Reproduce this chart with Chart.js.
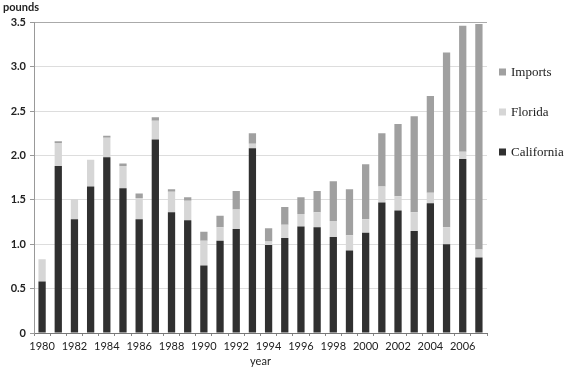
<!DOCTYPE html>
<html>
<head>
<meta charset="utf-8">
<script src="https://cdn.jsdelivr.net/npm/chart.js@4/dist/chart.umd.min.js"></script>
<style>
    html, body { margin: 0; padding: 0; background: #fff; }
    #wrap { width: 570px; height: 368px; }
</style>
</head>
<body>
<div id="wrap"><canvas id="barchart" width="570" height="368"></canvas></div>
<script>
// chart data
var years = ["1980", "1981", "1982", "1983", "1984", "1985", "1986", "1987", "1988", "1989",
    "1990", "1991", "1992", "1993", "1994", "1995", "1996", "1997", "1998", "1999",
    "2000", "2001", "2002", "2003", "2004", "2005", "2006", "2007"];

var california = [0.58, 1.88, 1.28, 1.65, 1.98, 1.63, 1.28, 2.18, 1.36, 1.27,
    0.76, 1.04, 1.17, 2.08, 0.99, 1.07, 1.20, 1.19, 1.08, 0.93,
    1.13, 1.47, 1.38, 1.15, 1.46, 1.00, 1.96, 0.85];

var florida = [0.25, 0.26, 0.23, 0.30, 0.22, 0.25, 0.24, 0.21, 0.23, 0.22,
    0.28, 0.15, 0.22, 0.05, 0.04, 0.15, 0.14, 0.17, 0.18, 0.17,
    0.15, 0.18, 0.16, 0.21, 0.12, 0.19, 0.08, 0.09];

var imports = [0, 0.02, 0, 0, 0.02, 0.03, 0.05, 0.04, 0.03, 0.04,
    0.10, 0.13, 0.21, 0.12, 0.15, 0.20, 0.19, 0.24, 0.45, 0.52,
    0.62, 0.60, 0.815, 1.08, 1.09, 1.97, 1.42, 2.54];

var yTicks = [0, 0.5, 1.0, 1.5, 2.0, 2.5, 3.0, 3.5];

var colors = {
    california: "#303030",
    florida: "#d6d6d6",
    imports: "#a0a0a0"
};

var sansFont = "Lato, 'Open Sans', sans-serif";
var serifFont = "'Liberation Serif', 'DejaVu Serif', serif";

// legend on the right, drawn from the datasets (top stack first)
var sideLegend = {
    id: 'sideLegend',
    afterDraw: function (chart) {
        var ctx = chart.ctx;
        var sets = chart.data.datasets;
        var x = chart.chartArea.right + 12;
        ctx.save();
        ctx.font = "13px " + serifFont;
        ctx.textBaseline = "middle";
        ctx.textAlign = "left";
        for (var i = sets.length - 1, row = 0; i >= 0; i--, row++) {
            var y = 72 + row * 40;
            ctx.fillStyle = sets[i].backgroundColor;
            ctx.fillRect(x, y - 3.5, 7, 7);
            ctx.fillStyle = "#222";
            ctx.fillText(sets[i].label, x + 12, y + 0.5);
        }
        ctx.restore();
    }
};

var barchart = document.getElementById('barchart');

var myBarChart = new Chart(barchart, {
    type: 'bar',
    data: {
        labels: years,
        datasets: [
            {label: "California", data: california, backgroundColor: colors.california},
            {label: "Florida", data: florida, backgroundColor: colors.florida},
            {label: "Imports", data: imports, backgroundColor: colors.imports}
        ]
    },
    options: {
        responsive: false,
        animation: false,
        barPercentage: 0.45,
        categoryPercentage: 1.0,
        layout: {
            padding: {left: 3, right: 83, top: 0, bottom: 0}
        },
        plugins: {
            legend: {display: false},
            tooltip: {enabled: false},
            title: {
                display: true,
                text: "pounds",
                align: "start",
                color: "#222",
                font: {family: sansFont, size: 11, weight: "bold"},
                padding: {top: 1, bottom: 8}
            }
        },
        scales: {
            x: {
                stacked: true,
                border: {color: "#777"},
                grid: {
                    drawOnChartArea: false,
                    drawTicks: true,
                    tickLength: 3,
                    tickColor: "#888"
                },
                ticks: {
                    autoSkip: false,
                    maxRotation: 0,
                    padding: 4,
                    color: "#222",
                    font: {family: sansFont, size: 11},
                    callback: function (value, index) {
                        return index % 2 === 0 ? years[index] : "";
                    }
                },
                title: {
                    display: true,
                    text: "year",
                    color: "#222",
                    font: {family: sansFont, size: 11},
                    padding: {top: 0, bottom: 0}
                },
                afterFit: function (scale) {
                    scale.height = 35;
                }
            },
            y: {
                stacked: true,
                min: 0,
                max: 3.5,
                border: {color: "#999"},
                grid: {
                    color: function (c) {
                        return c.tick && c.tick.value === 3.5 ? "#aaa" : "#ddd";
                    },
                    tickColor: "#999",
                    tickLength: 4
                },
                afterBuildTicks: function (scale) {
                    scale.ticks = yTicks.map(function (v) { return {value: v}; });
                },
                ticks: {
                    padding: 4,
                    color: "#222",
                    font: {family: sansFont, size: 11, weight: "bold"},
                    callback: function (value) {
                        return value === 0 ? "0" : value.toFixed(1);
                    }
                },
                afterFit: function (scale) {
                    scale.width = 31;
                }
            }
        }
    },
    plugins: [sideLegend]
});
</script>
</body>
</html>
